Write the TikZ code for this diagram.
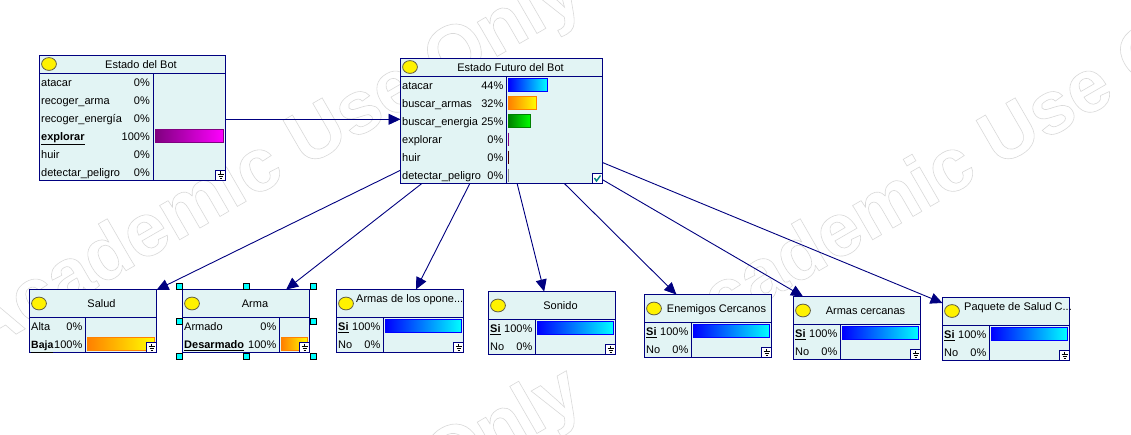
\documentclass[tikz,border=0pt]{standalone}
\usepackage{fontspec}
\setmainfont{Liberation Sans}
\usetikzlibrary{arrows.meta,calc}
\definecolor{nv}{RGB}{0,0,128}
\definecolor{nodebg}{RGB}{226,244,244}
\definecolor{wm}{RGB}{218,218,218}
\definecolor{barpurple}{RGB}{128,0,128}
\definecolor{barmag}{RGB}{255,0,255}
\definecolor{barorange}{RGB}{255,128,0}
\definecolor{bargreen}{RGB}{0,128,0}
\definecolor{barblue}{RGB}{0,0,255}
\definecolor{barcyan}{RGB}{0,255,255}
\definecolor{baryellow}{RGB}{255,255,0}
\definecolor{barlime}{RGB}{0,255,0}
\tikzset{
  bnode/.style={draw=nv,line width=1pt,fill=nodebg,rectangle,inner sep=0pt,outer sep=0pt,anchor=north west},
  lnk/.style={draw=nv,line width=.9pt,-{Triangle[length=12pt,width=11pt,fill=nv]}},
  rowtxt/.style={font=\fontsize{11}{12}\selectfont,inner sep=0pt,anchor=base west,text=black},
  pcttxt/.style={font=\fontsize{11}{12}\selectfont,inner sep=0pt,anchor=base east,text=black},
  titletxt/.style={font=\fontsize{11}{12}\selectfont,inner sep=0pt,anchor=base,text=black},
  lamp/.style={draw=black!70!yellow,line width=.8pt,fill=yellow},
  handle/.style={draw=black,line width=.5pt,fill=barcyan},
  wmtxt/.style={font=\fontsize{75}{75}\selectfont\bfseries,inner sep=0pt,rotate=30,anchor=base west,text=wm},
}
\newcommand{\wmark}{\special{pdf:code q 1 Tr 0.6 w 0.85 0.85 0.85 RG}Academic Use Only\special{pdf:code 0 Tr Q}}
% \bn{name}{x}{y}{w}{h}{hdrh}{divx}
\newcommand{\bn}[7]{%
  \node[bnode,minimum width=#4pt,minimum height=#5pt] (#1) at (#2,#3) {};
  \draw[nv,line width=1pt] (#2,#3+#6) -- ++(#4,0);
  \draw[nv,line width=1pt] (#7,#3+#6) -- (#7,#3+#5);
}
\newcommand{\lampat}[2]{\draw[lamp] (#1,#2) ellipse [x radius=7.4pt,y radius=6.4pt];}
\newcommand{\rowt}[5][]{% x1 x2 y text pct
  \node[rowtxt] at (#2,#4+4) {#1};
  \node[pcttxt] at (#3,#4+4) {#5};}
\newcommand{\brow}[4]{\node[rowtxt] at (#1,#3+4) {\underline{\textbf{#4}}};}
\newcommand{\bbar}[6]{% x1 y1 x2 y2 left right
  \shade[left color=#5,right color=#6] (#1,#2) rectangle (#3,#4);
  \draw[#5,line width=.8pt] (#1,#2) rectangle (#3,#4);}
\newcommand{\gnd}[2]{% right bottom
  \draw[nv,line width=.9pt,fill=white] (#1-10,#2-10) rectangle (#1,#2);
  \draw[black,line width=.7pt] (#1-5,#2-9) -- (#1-5,#2-6) (#1-8,#2-6) -- (#1-2,#2-6) (#1-7,#2-4) -- (#1-3,#2-4) (#1-6,#2-2) -- (#1-4,#2-2);}
\begin{document}
\begin{tikzpicture}[x=1pt,y=-1pt]
\useasboundingbox[fill=white] (0,0) rectangle (1131,434);
\begin{scope}
\clip (0,0) rectangle (1131,434);
\node[wmtxt] (wma) at (-20,355) {\wmark};
\node[wmtxt] (wmb) at (673,355) {\wmark};
\node[wmtxt] (wmc) at (-20,755) {\wmark};
\end{scope}

\bn{bot}{39.5}{55}{186}{125}{18}{153.5}
\bn{fut}{400.5}{58.5}{202}{125}{18}{506.5}
\bn{sal}{29.5}{289.5}{127}{63}{28}{85.5}
\bn{arm}{182.5}{289.5}{127}{63}{28}{279.5}
\bn{opo}{336.5}{289.5}{127}{63}{28}{383.5}
\bn{son}{488.5}{291.5}{127}{63}{28}{535.5}
\bn{ene}{644.5}{294.5}{127}{63}{28}{691.5}
\bn{cer}{793.5}{296.5}{127}{63}{28}{840.5}
\bn{paq}{942.5}{297.5}{127}{63}{28}{989.5}

\coordinate (lk) at (300,119.3);
\draw[lnk] (bot.east |- lk) -- (fut.west |- lk);
\foreach \c in {sal,arm,opo,son,ene,cer,paq} \draw[lnk] (fut) -- (\c);

% Estado del Bot
\lampat{49}{64}
\node[titletxt] at (141,68) {Estado del Bot};
\rowt[atacar]{41}{150}{82.5}{0\%}
\rowt[recoger\_arma]{41}{150}{100.5}{0\%}
\rowt[recoger\_energía]{41}{150}{118.5}{0\%}
\brow{41}{150}{136.5}{explorar}\node[pcttxt] at (150,140.5) {100\%};
\rowt[huir]{41}{150}{154.5}{0\%}
\rowt[detectar\_peligro]{41}{150}{172.5}{0\%}
\bbar{155.5}{129.5}{223.5}{142.5}{barpurple}{barmag}
\gnd{225.5}{180}

% Estado Futuro
\lampat{410}{67}
\node[titletxt] at (510.5,71) {Estado Futuro del Bot};
\rowt[atacar]{402}{503.5}{85.5}{44\%}
\rowt[buscar\_armas]{402}{503.5}{103.5}{32\%}
\rowt[buscar\_energia]{402}{503.5}{121.5}{25\%}
\rowt[explorar]{402}{503.5}{139.5}{0\%}
\rowt[huir]{402}{503.5}{157.5}{0\%}
\rowt[detectar\_peligro]{402}{503.5}{175.5}{0\%}
\bbar{508.5}{78.5}{547.5}{91.5}{barblue}{barcyan}
\bbar{508.5}{96.5}{536.5}{109.5}{barorange}{baryellow}
\bbar{508.5}{114.5}{530.5}{127.5}{bargreen}{barlime}
\draw[barpurple,line width=1pt] (508.5,132.5) -- (508.5,145.5);
\draw[red!30!black,line width=1pt] (508.5,150.5) -- (508.5,163.5);
\draw[gray,line width=1pt] (508.5,168.5) -- (508.5,181.5);
\draw[nv,line width=.9pt,fill=white] (592.5,173.5) rectangle (602.5,183.5);
\draw[teal,line width=1.4pt] (594.5,178) -- (596.5,181) -- (600.5,175.5);

% Salud
\lampat{39}{303.5}
\node[titletxt] at (101.5,307.5) {Salud};
\rowt[Alta]{31}{82.5}{326.5}{0\%}
\node[rowtxt,font=\fontsize{10.5}{12}\selectfont] at (31,348.5) {\underline{\textbf{Baja}}};
\node[pcttxt] at (82.5,348.5) {100\%};
\bbar{87.5}{337.5}{154.5}{350.5}{barorange}{baryellow}
\gnd{156.5}{352.5}

% Arma
\lampat{192}{303.5}
\node[titletxt] at (255,307.5) {Arma};
\rowt[Armado]{184}{276.5}{326.5}{0\%}
\brow{184}{276.5}{344.5}{Desarmado}\node[pcttxt] at (276.5,348.5) {100\%};
\bbar{281.5}{337.5}{307.5}{350.5}{barorange}{baryellow}
\gnd{309.5}{352.5}
\foreach \hx in {179.5,246.5,313.5} \foreach \hy in {286.5,356.5}
  \draw[handle] (\hx-3,\hy-3) rectangle (\hx+3,\hy+3);
\foreach \hx in {179.5,313.5}
  \draw[handle] (\hx-3,321.5-3) rectangle (\hx+3,321.5+3);

% Armas de los oponentes
\lampat{346}{303.5}
\node[titletxt,anchor=base west] at (356,302) {Armas de los opone...};
\rowt[\underline{\textbf{Si}}]{338}{380.5}{326.5}{100\%}
\rowt[No]{338}{380.5}{344.5}{0\%}
\bbar{385.5}{319.5}{461.5}{332.5}{barblue}{barcyan}
\gnd{463.5}{352.5}

% Sonido
\lampat{498}{305.5}
\node[titletxt] at (560.5,309.5) {Sonido};
\rowt[\underline{\textbf{Si}}]{490}{532.5}{328.5}{100\%}
\rowt[No]{490}{532.5}{346.5}{0\%}
\bbar{537.5}{321.5}{613.5}{334.5}{barblue}{barcyan}
\gnd{615.5}{354.5}

% Enemigos
\lampat{654}{308.5}
\node[titletxt] at (716.5,312.5) {Enemigos Cercanos};
\rowt[\underline{\textbf{Si}}]{646}{688.5}{331.5}{100\%}
\rowt[No]{646}{688.5}{349.5}{0\%}
\bbar{693.5}{324.5}{769.5}{337.5}{barblue}{barcyan}
\gnd{771.5}{357.5}

% Armas cercanas
\lampat{803}{310.5}
\node[titletxt] at (865.5,314.5) {Armas cercanas};
\rowt[\underline{\textbf{Si}}]{795}{837.5}{333.5}{100\%}
\rowt[No]{795}{837.5}{351.5}{0\%}
\bbar{842.5}{326.5}{918.5}{339.5}{barblue}{barcyan}
\gnd{920.5}{359.5}

% Paquete
\lampat{952}{311}
\node[titletxt,anchor=base west] at (964,310.5) {Paquete de Salud C...};
\rowt[\underline{\textbf{Si}}]{944}{986.5}{334.5}{100\%}
\rowt[No]{944}{986.5}{352.5}{0\%}
\bbar{991.5}{327.5}{1067.5}{340.5}{barblue}{barcyan}
\gnd{1069.5}{360.5}
\end{tikzpicture}
\end{document}
